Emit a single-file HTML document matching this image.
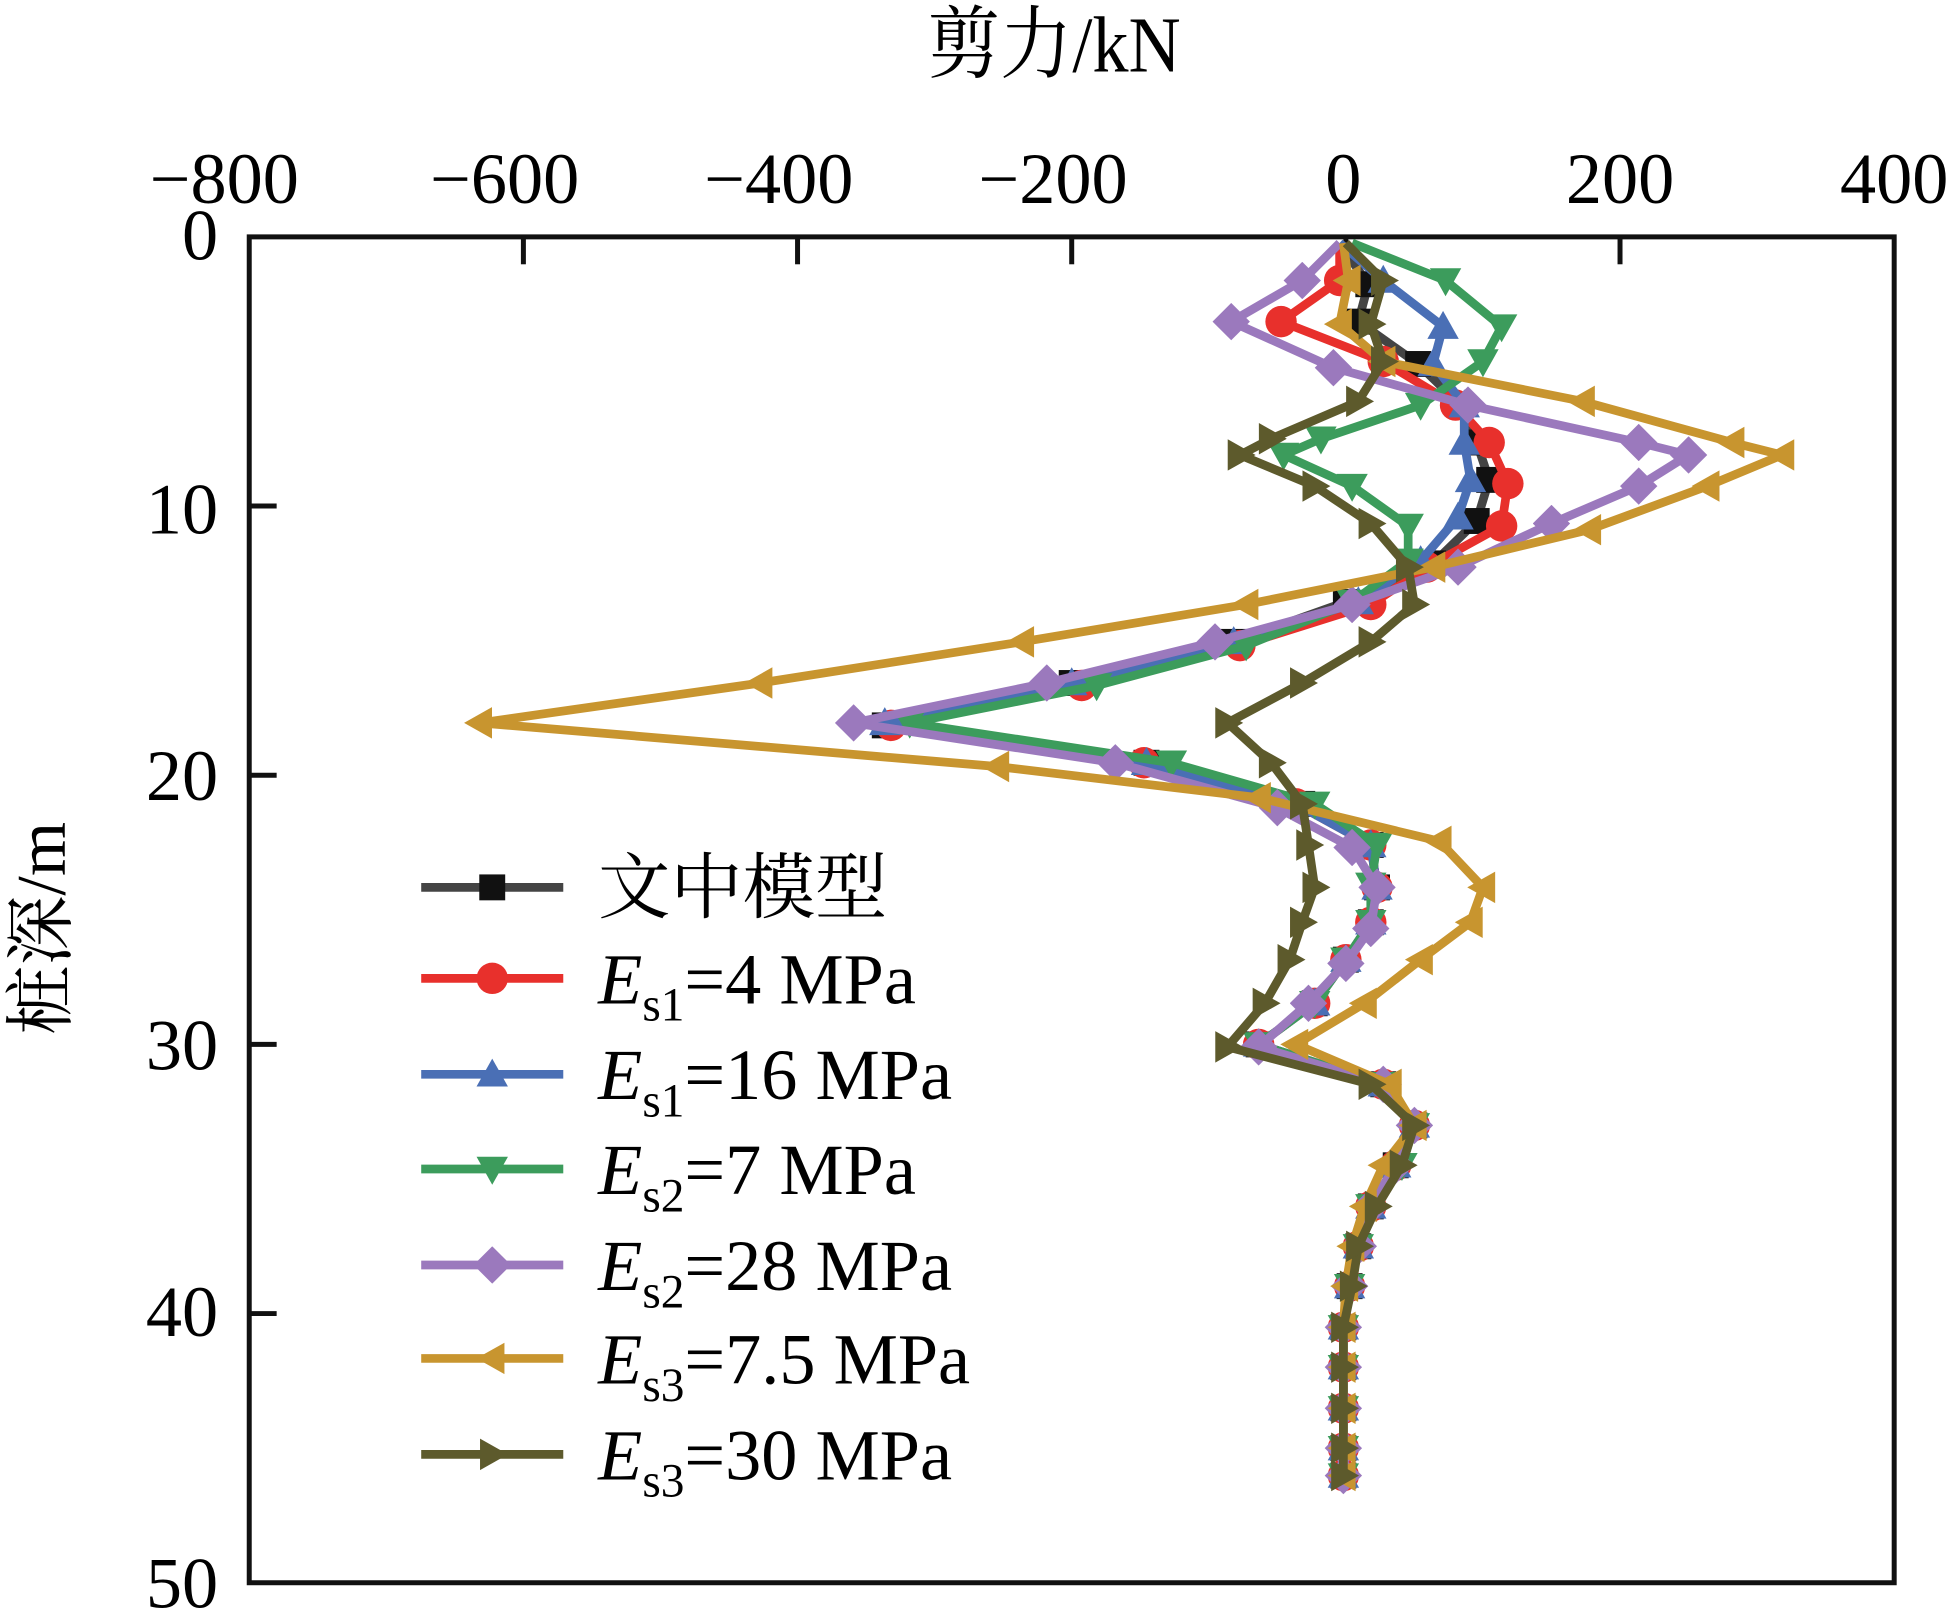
<!DOCTYPE html>
<html><head><meta charset="utf-8"><style>html,body{margin:0;padding:0;background:#fff}svg{display:block}</style></head>
<body>
<svg width="1954" height="1614" viewBox="0 0 1568 1295" xmlns="http://www.w3.org/2000/svg" font-family="'Liberation Serif','Noto Serif CJK SC',serif">
<defs>
<marker id="sq" viewBox="-10 -10 20 20" markerWidth="26" markerHeight="26" markerUnits="userSpaceOnUse"><rect x="-8" y="-8" width="16" height="16" fill="#111"/></marker>
<marker id="ci" viewBox="-10 -10 20 20" markerWidth="28" markerHeight="28" markerUnits="userSpaceOnUse"><circle r="9" fill="#e8302c"/></marker>
<marker id="up" viewBox="-10 -10 20 20" markerWidth="28" markerHeight="28" markerUnits="userSpaceOnUse"><polygon points="0,-9 9,7 -9,7" fill="#4a6fb5"/></marker>
<marker id="dn" viewBox="-10 -10 20 20" markerWidth="28" markerHeight="28" markerUnits="userSpaceOnUse"><polygon points="0,9 9,-7 -9,-7" fill="#3c9c5c"/></marker>
<marker id="di" viewBox="-10 -10 20 20" markerWidth="30" markerHeight="30" markerUnits="userSpaceOnUse"><polygon points="0,-10 10,0 0,10 -10,0" fill="#9b79bd"/></marker>
<marker id="lt" viewBox="-10 -10 20 20" markerWidth="28" markerHeight="28" markerUnits="userSpaceOnUse"><polygon points="-9,0 7,-9 7,9" fill="#c8952f"/></marker>
<marker id="rt" viewBox="-10 -10 20 20" markerWidth="28" markerHeight="28" markerUnits="userSpaceOnUse"><polygon points="9,0 -7,-9 -7,9" fill="#5d5a2c"/></marker>
</defs>
<text x="846" y="52" font-size="58" text-anchor="middle" transform="translate(846,0) scale(1,1.1) translate(-846,0)">剪力/kN</text>
<g font-size="58" text-anchor="middle">
<text x="180" y="163">−800</text><text x="405" y="163">−600</text><text x="625" y="163">−400</text><text x="845" y="163">−200</text><text x="1078" y="163">0</text><text x="1300" y="163">200</text><text x="1520" y="163">400</text>
</g>
<g font-size="58" text-anchor="end">
<text x="175" y="208">0</text><text x="175" y="428">10</text><text x="175" y="642">20</text><text x="175" y="858">30</text><text x="175" y="1072">40</text><text x="175" y="1290">50</text>
</g>
<text transform="translate(52,745) rotate(-90)" font-size="56" text-anchor="middle">桩深/m</text>
<rect x="200" y="190" width="1320" height="1080" fill="none" stroke="#111" stroke-width="4"/>
<g stroke="#111" stroke-width="4">
<line x1="420" y1="190" x2="420" y2="212"/><line x1="640" y1="190" x2="640" y2="212"/><line x1="860" y1="190" x2="860" y2="212"/><line x1="1080" y1="190" x2="1080" y2="212"/><line x1="1300" y1="190" x2="1300" y2="212"/>
<line x1="200" y1="406" x2="222" y2="406"/><line x1="200" y1="622" x2="222" y2="622"/><line x1="200" y1="838" x2="222" y2="838"/><line x1="200" y1="1054" x2="222" y2="1054"/>
</g>
<g fill="none" stroke-width="7" stroke-linejoin="round">
<polyline stroke="#444" marker-mid="url(#sq)" marker-end="url(#sq)" points="1075,195 1098,228 1090,258 1138,292 1172,325 1185,355 1195,385 1185,418 1150,452 1080,483 990,515 860,548 710,582 920,612 1045,645 1100,678 1105,712 1100,740 1080,770 1055,805 1010,838 1110,870 1135,903 1120,935 1100,968 1090,1000 1083,1032 1078,1065 1078,1097 1078,1130 1078,1162 1078,1184"/>
<polyline stroke="#e8302c" marker-mid="url(#ci)" marker-end="url(#ci)" points="1075,195 1075,225 1028,258 1110,290 1168,325 1195,355 1210,388 1205,422 1145,455 1100,485 995,518 868,550 715,582 918,612 1040,645 1100,678 1105,712 1100,740 1080,770 1055,805 1010,838 1110,870 1135,903 1120,935 1100,968 1090,1000 1083,1032 1078,1065 1078,1097 1078,1130 1078,1162 1078,1184"/>
<polyline stroke="#4a6fb5" marker-mid="url(#up)" marker-end="url(#up)" points="1075,195 1110,225 1158,262 1150,292 1175,325 1175,355 1180,385 1170,415 1140,450 1090,483 990,515 860,548 710,580 920,612 1040,645 1100,678 1105,712 1100,740 1080,770 1055,805 1010,838 1110,870 1135,903 1120,935 1100,968 1090,1000 1083,1032 1078,1065 1078,1097 1078,1130 1078,1162 1078,1184"/>
<polyline stroke="#3c9c5c" marker-mid="url(#dn)" marker-end="url(#dn)" points="1085,195 1160,225 1205,262 1190,290 1140,325 1060,352 1030,365 1085,390 1130,422 1130,450 1085,483 1000,518 880,550 730,580 940,612 1055,645 1105,678 1100,710 1100,740 1080,770 1055,805 1010,838 1110,870 1135,903 1125,935 1100,968 1090,1000 1083,1032 1078,1065 1078,1097 1078,1130 1078,1162 1078,1184"/>
<polyline stroke="#9b79bd" marker-mid="url(#di)" marker-end="url(#di)" points="1075,195 1045,225 988,258 1070,295 1178,325 1315,355 1355,365 1315,390 1245,420 1170,455 1085,485 975,515 840,548 685,580 895,612 1025,648 1085,680 1105,712 1100,745 1080,773 1050,805 1010,840 1110,870 1135,903 1120,935 1100,968 1090,1000 1083,1032 1078,1065 1078,1097 1078,1130 1078,1162 1078,1184"/>
<polyline stroke="#c8952f" marker-mid="url(#lt)" marker-end="url(#lt)" points="1078,195 1082,225 1075,260 1110,290 1270,322 1390,355 1430,365 1370,390 1275,425 1150,455 1000,485 820,515 610,548 385,580 800,615 1010,640 1155,675 1190,712 1180,740 1140,770 1095,805 1040,838 1115,870 1135,903 1110,935 1095,968 1085,1000 1080,1032 1078,1065 1078,1097 1078,1130 1078,1162 1078,1184"/>
<polyline stroke="#5d5a2c" marker-mid="url(#rt)" marker-end="url(#rt)" points="1080,195 1110,225 1100,260 1110,290 1090,322 1020,352 995,365 1055,390 1100,420 1130,455 1135,485 1100,515 1045,548 985,580 1020,612 1045,645 1050,678 1055,712 1045,740 1035,770 1015,805 985,840 1100,870 1135,903 1125,935 1105,968 1090,1000 1085,1032 1078,1065 1078,1097 1078,1130 1078,1162 1078,1184"/>
</g>
<g fill="none" stroke-width="7">
<polyline stroke="#444" marker-mid="url(#sq)" points="338,712 395,712 452,712"/>
<polyline stroke="#e8302c" marker-mid="url(#ci)" points="338,785 395,785 452,785"/>
<polyline stroke="#4a6fb5" marker-mid="url(#up)" points="338,862 395,862 452,862"/>
<polyline stroke="#3c9c5c" marker-mid="url(#dn)" points="338,938 395,938 452,938"/>
<polyline stroke="#9b79bd" marker-mid="url(#di)" points="338,1015 395,1015 452,1015"/>
<polyline stroke="#c8952f" marker-mid="url(#lt)" points="338,1090 395,1090 452,1090"/>
<polyline stroke="#5d5a2c" marker-mid="url(#rt)" points="338,1167 395,1167 452,1167"/>
</g>
<g font-size="58">
<text x="480" y="732">文中模型</text>
<text x="480" y="805"><tspan font-style="italic">E</tspan><tspan font-size="38" dy="14">s1</tspan><tspan dy="-14">=4 MPa</tspan></text>
<text x="480" y="882"><tspan font-style="italic">E</tspan><tspan font-size="38" dy="14">s1</tspan><tspan dy="-14">=16 MPa</tspan></text>
<text x="480" y="958"><tspan font-style="italic">E</tspan><tspan font-size="38" dy="14">s2</tspan><tspan dy="-14">=7 MPa</tspan></text>
<text x="480" y="1035"><tspan font-style="italic">E</tspan><tspan font-size="38" dy="14">s2</tspan><tspan dy="-14">=28 MPa</tspan></text>
<text x="480" y="1110"><tspan font-style="italic">E</tspan><tspan font-size="38" dy="14">s3</tspan><tspan dy="-14">=7.5 MPa</tspan></text>
<text x="480" y="1187"><tspan font-style="italic">E</tspan><tspan font-size="38" dy="14">s3</tspan><tspan dy="-14">=30 MPa</tspan></text>
</g>
</svg>
</body></html>
